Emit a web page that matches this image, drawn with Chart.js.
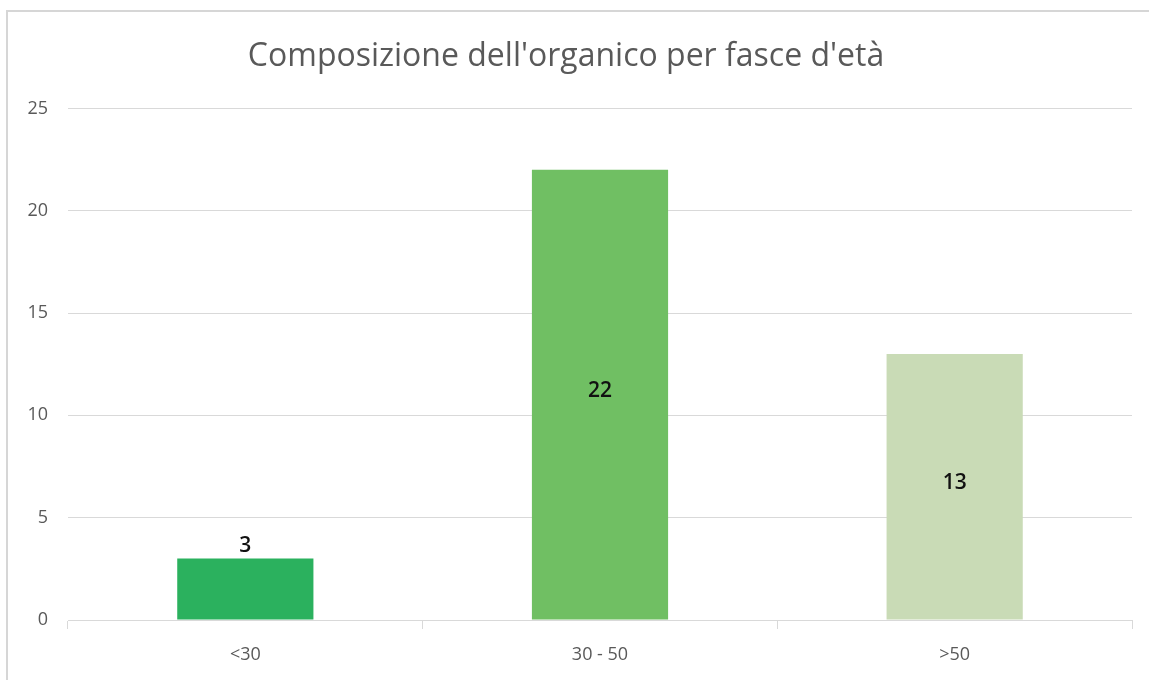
<!DOCTYPE html>
<html>
<head>
<meta charset="utf-8">
<script src="https://cdn.jsdelivr.net/npm/chart.js@4/dist/chart.umd.min.js"></script>
<style>
html,body{margin:0;padding:0;background:#fff;}
#wrap{width:1149px;height:680px;position:relative;}
</style>
</head>
<body>
<div id="wrap"><canvas id="c" width="1149" height="680"></canvas></div>
<script>
const categories = ['<30', '30 - 50', '>50'];
const values = [3, 22, 13];
const barColors = ['#2BB15E', '#70BF63', '#C9DBB6'];
const yTicks = [0, 5, 10, 15, 20, 25];
const titleText = "Composizione dell'organico per fasce d'età";

const FONT = "'Open Sans', 'Liberation Sans', sans-serif";

const frame = {
  id: 'frame',
  beforeDraw(chart) {
    const ctx = chart.ctx;
    ctx.save();
    ctx.fillStyle = '#ffffff';
    ctx.fillRect(0, 0, chart.width, chart.height);
    ctx.strokeStyle = '#d6d6d6';
    ctx.lineWidth = 2;
    ctx.beginPath();
    ctx.moveTo(7, chart.height + 5);
    ctx.lineTo(7, 11);
    ctx.lineTo(chart.width + 5, 11);
    ctx.stroke();
    ctx.restore();
  }
};

const labels = {
  id: 'labels',
  afterDatasetsDraw(chart) {
    const ctx = chart.ctx;
    const meta = chart.getDatasetMeta(0);
    ctx.save();
    ctx.font = "600 21px " + FONT;
    ctx.fillStyle = '#111111';
    ctx.textAlign = 'center';
    ctx.textBaseline = 'middle';
    meta.data.forEach((bar, i) => {
      const v = chart.data.datasets[0].data[i];
      let y;
      if (Math.abs(bar.base - bar.y) < 90) y = bar.y - 13;
      else y = (bar.y + bar.base) / 2 - 4;
      ctx.fillText(String(v), bar.x, y);
    });
    ctx.restore();
  }
};

new Chart(document.getElementById('c'), {
  type: 'bar',
  data: {
    labels: categories,
    datasets: [{
      data: values,
      backgroundColor: barColors,
      borderWidth: 0,
      barPercentage: 0.384,
      categoryPercentage: 1.0
    }]
  },
  options: {
    responsive: false,
    animation: false,
    devicePixelRatio: 1,
    layout: { padding: { left: 0, right: 17, top: 0, bottom: 0 } },
    plugins: {
      legend: { display: false },
      tooltip: { enabled: false },
      title: {
        display: true,
        text: titleText,
        color: '#595959',
        font: { family: FONT, size: 32, weight: 'normal', lineHeight: 1.2 },
        padding: { top: 38, bottom: 32 }
      }
    },
    scales: {
      x: {
        grid: {
          display: true,
          offset: true,
          drawOnChartArea: false,
          drawTicks: true,
          tickLength: 9,
          color: '#d9d9d9'
        },
        border: { display: true, color: '#d9d9d9', width: 1 },
        ticks: {
          color: '#595959',
          font: { family: FONT, size: 18 },
          padding: 15
        },
        afterFit(scale) { scale.height = 60; }
      },
      y: {
        min: 0,
        max: 25,
        afterBuildTicks(scale) { scale.ticks = yTicks.map(v => ({ value: v })); },
        grid: {
          color: '#d9d9d9',
          lineWidth: 1,
          drawTicks: false
        },
        border: { display: false },
        ticks: {
          color: '#595959',
          font: { family: FONT, size: 18 },
          padding: 20
        },
        afterFit(scale) { scale.width = 68; }
      }
    }
  },
  plugins: [frame, labels]
});
</script>
</body>
</html>
